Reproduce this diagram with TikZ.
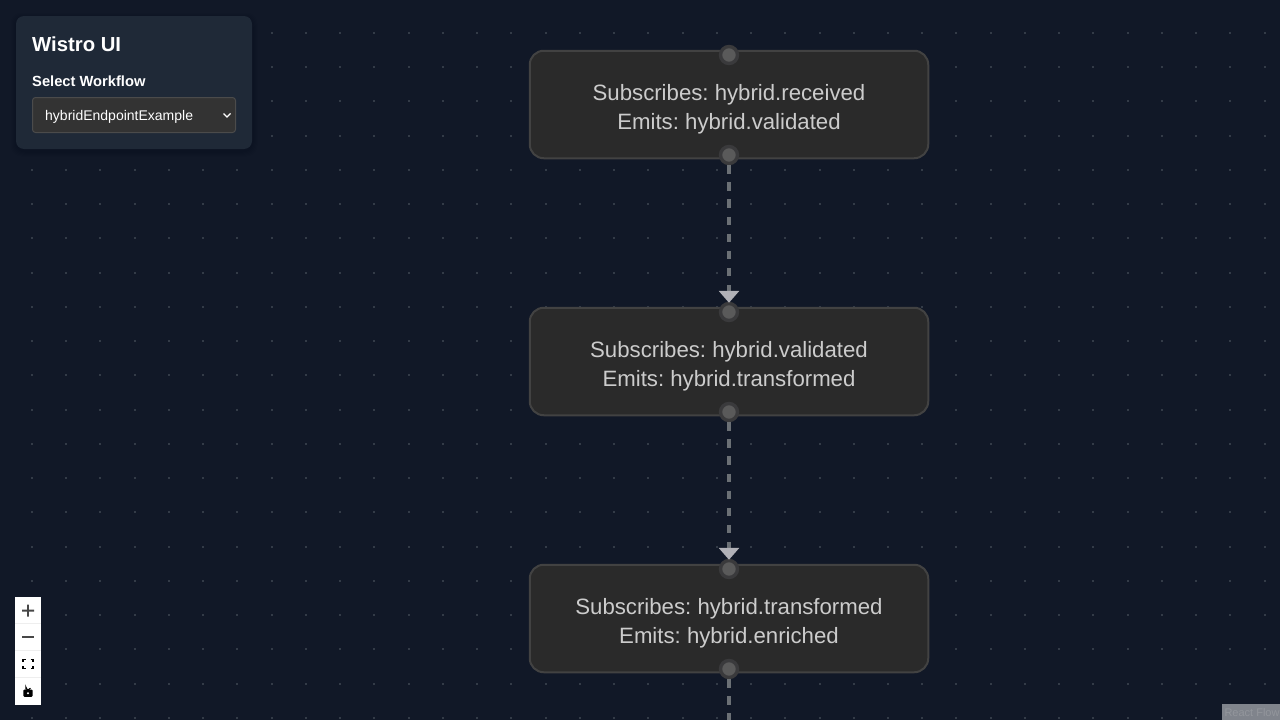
\documentclass[tikz,border=0pt]{standalone}
\usepackage{fontspec}
\setmainfont{Liberation Sans}
\usetikzlibrary{arrows.meta,positioning}
\definecolor{pagebg}{HTML}{111827}
\definecolor{griddot}{HTML}{333B47}
\definecolor{panelbg}{HTML}{1F2937}
\definecolor{stepbg}{HTML}{2A2A2A}
\definecolor{stepline}{HTML}{424242}
\definecolor{steptext}{HTML}{CCCCCC}
\definecolor{edgeline}{HTML}{6B7075}
\definecolor{edgetip}{HTML}{B1B1B7}
\definecolor{portfill}{HTML}{5A5A5A}
\definecolor{portring}{HTML}{3A3A3C}
\definecolor{selbg}{HTML}{333333}
\definecolor{selline}{HTML}{4B4B4B}
\definecolor{ctlline}{HTML}{EEEEEE}
\definecolor{attrbg}{HTML}{80848C}
\definecolor{attrtext}{HTML}{93969C}
\newcommand{\stepmsg}[2]{\rule{0pt}{26pt}#1\\#2}
\tikzset{
  stepbox/.style={draw=stepline,line width=2pt,fill=stepbg,rounded corners=14pt,minimum width=398.5pt,minimum height=107.5pt,text=steptext,align=center,font=\fontsize{22.2}{29}\selectfont\frenchspacing,inner sep=0pt},
  porthole/.style={circle,draw=portring,line width=3.4pt,fill=portfill,minimum size=17pt,inner sep=0pt},
  flowedge/.style={draw=edgeline,line width=3.4pt,dash pattern=on 8.56pt off 8.56pt},
  flowtip/.style={-{Triangle[length=12pt,width=20pt,color=edgetip]},shorten >=-1pt},
  ctlbtn/.style={fill=white,minimum width=26pt,minimum height=27pt,inner sep=0pt},
  ctlmark/.style={fill=black!72}
}
\begin{document}
\begin{tikzpicture}[x=1pt,y=-1pt]
\useasboundingbox (0,0) rectangle (1280,720);
\fill[pagebg] (0,0) rectangle (1280,720);
% dots of the grid
\foreach \i in {0,...,36}
  \foreach \j in {0,...,20}
    \fill[griddot] ({32+34.24*\i-1},{33+34.24*\j-1}) rectangle ++(2,2);
% steps
\node[stepbox] (received) at (729,104.5) {\stepmsg{Subscribes: hybrid.received}{Emits: hybrid.validated}};
\node[stepbox] (validated) at (729,361.5) {\stepmsg{Subscribes: hybrid.validated}{Emits: hybrid.transformed}};
\node[stepbox] (transformed) at (729,618.5) {\stepmsg{Subscribes: hybrid.transformed}{Emits: hybrid.enriched}};
% handles
\node[porthole] (receivedin) at (729,55) {};
\node[porthole] (receivedout) at (729,155) {};
\node[porthole] (validatedin) at (729,312) {};
\node[porthole] (validatedout) at (729,412) {};
\node[porthole] (transformedin) at (729,569) {};
\node[porthole] (transformedout) at (729,669) {};
\coordinate (offpage) at (729,720);
% edges
\draw[flowedge,flowtip] (receivedout) -- (validatedin);
\draw[flowedge,flowtip] (validatedout) -- (transformedin);
\draw[flowedge] (transformedout) -- (offpage);
% panel
\foreach \s in {1,...,5}
  \fill[black,opacity=0.022,rounded corners=10pt] ({16-\s},{16-\s+2}) rectangle ({252+\s},{149+\s+2});
\node[fill=panelbg,rounded corners=8pt,minimum width=236pt,minimum height=133pt,inner sep=0pt] (panel) at (134,82.5) {};
\node[anchor=west,text=white,font=\fontsize{20.3}{24}\selectfont\bfseries,inner sep=0pt] (title) at (32,44) {Wistro UI};
\node[anchor=west,text=white,font=\fontsize{14.7}{16}\selectfont\bfseries,inner sep=0pt] (sellabel) at (32,81) {Select Workflow};
\node[fill=selbg,draw=selline,line width=1pt,rounded corners=3pt,minimum width=203pt,minimum height=35pt,inner sep=0pt] (selbox) at (134,115) {};
\node[anchor=west,text=white,font=\fontsize{14}{16}\selectfont,inner sep=0pt] (seltext) at (45,117) {hybridEndpointExample};
\draw[white,line width=1.3pt] (223.5,113.5) -- (227,117) -- (230.5,113.5);
% zoom buttons
\node[ctlbtn] (zoomin) at (28,610.5) {};
\node[ctlbtn] (zoomout) at (28,637.5) {};
\node[ctlbtn] (fitview) at (28,664.5) {};
\node[ctlbtn] (lockview) at (28,691.5) {};
\draw[ctlline,line width=1pt] (15,623.5) -- (41,623.5) (15,650.5) -- (41,650.5) (15,677.5) -- (41,677.5);
\fill[ctlmark] (22,609.7) rectangle (34,611.5) (27.1,604.5) rectangle (28.9,616.5);
\fill[ctlmark] (22,636.1) rectangle (34,637.9);
\draw[black,line width=1.3pt] (23,662) -- (23,659.5) -- (25.5,659.5) (30.5,659.5) -- (33,659.5) -- (33,662) (33,666) -- (33,668.5) -- (30.5,668.5) (25.5,668.5) -- (23,668.5) -- (23,666);
\fill[black,rounded corners=1pt] (23.4,689.5) rectangle (32.6,696.8);
\draw[black,line width=1.2pt] (26,689.5) -- (26,687.5) arc (180:20:2.3);
\fill[white] (28,693.2) circle (1.2);
% attribution
\node[fill=attrbg,minimum width=58pt,minimum height=16pt,inner sep=0pt] (attrbox) at (1251,712) {};
\node[text=attrtext,font=\fontsize{11}{12}\selectfont,inner sep=0pt] (attrtxt) at (1252,712.5) {React Flow};
\end{tikzpicture}
\end{document}
